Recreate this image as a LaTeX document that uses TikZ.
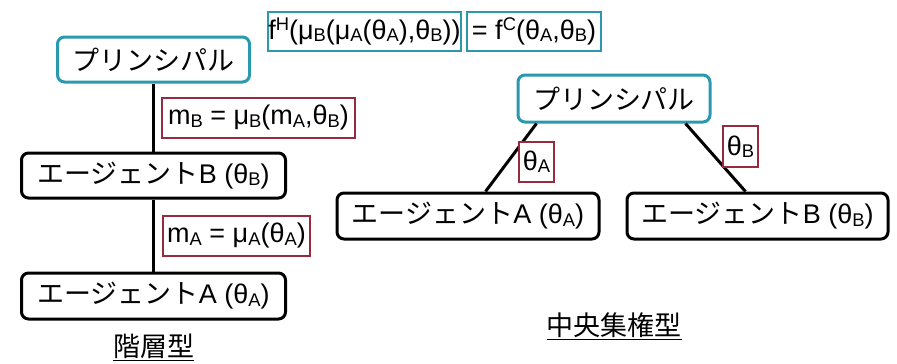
\documentclass[tikz,border=0pt]{standalone}
\usepackage{fontspec}
\usepackage{graphicx}
\setmainfont{Liberation Sans}
\newfontfamily\jp{Noto Sans CJK JP}
\newcommand\sbs[1]{\raisebox{-0.08em}{\scalebox{0.68}{#1}}}
\newcommand\sps[1]{\raisebox{0.32em}{\scalebox{0.68}{#1}}}
\definecolor{tealc}{RGB}{42,152,174}
\definecolor{redc}{RGB}{150,42,62}
\begin{document}
\begin{tikzpicture}[x=1pt,y=-1pt,
  every node/.style={font=\fontsize{27}{32}\selectfont, inner sep=0pt, align=center},
  sized/.style n args={2}{minimum width=#1, minimum height=#2},
  princ/.style={draw=tealc, line width=3pt, rounded corners=7pt, fill=white},
  agent/.style={draw=black, line width=3pt, rounded corners=7pt, fill=white},
  lab/.style={draw=redc, line width=2pt, fill=white},
  form/.style={draw=tealc, line width=2pt, fill=white},
  conn/.style={draw=black, line width=3pt}
]
\useasboundingbox (0,0) rectangle (897,364);
% hierarchical
\node[princ, sized={192pt}{45pt}] (pL) at (153.5,59.5) {\jp プリンシパル};
\node[agent, sized={264pt}{45pt}] (bL) at (153.5,175.5) {{\jp エージェント}B (θ\sbs{B})};
\node[agent, sized={264pt}{46pt}] (aL) at (153.5,296) {{\jp エージェント}A (θ\sbs{A})};
\draw[conn] (pL.south) -- (bL.north);
\draw[conn] (bL.south) -- (aL.north);
\node[lab, sized={193pt}{40pt}] (lbB) at (258.5,118) {m\sbs{B} = μ\sbs{B}(m\sbs{A},θ\sbs{B})};
\node[lab, sized={147pt}{40pt}] (lbA) at (236.5,236) {m\sbs{A} = μ\sbs{A}(θ\sbs{A})};
\node (tH) at (153.5,347) {\jp\underline{階層型}};
% formula
\node[form, sized={193pt}{39pt}] (fH) at (364.5,31.5) {f\sps{H}(μ\sbs{B}(μ\sbs{A}(θ\sbs{A}),θ\sbs{B}))};
\node[form, sized={134pt}{39pt}] (fC) at (534,31.5) {= f\sps{C}(θ\sbs{A},θ\sbs{B})};
% centralized
\node[princ, sized={192pt}{47pt}] (pR) at (614,98.5) {\jp プリンシパル};
\node[agent, sized={262pt}{46pt}] (aR) at (468,216) {{\jp エージェント}A (θ\sbs{A})};
\node[agent, sized={261pt}{46pt}] (bR) at (757.5,216) {{\jp エージェント}B (θ\sbs{B})};
\draw[conn] ([xshift=20pt]pR.south west) -- ([xshift=150pt]aR.north west);
\draw[conn] ([xshift=-26pt]pR.south east) -- ([xshift=120pt]bR.north west);
\node[lab, sized={35pt}{40pt}] (thA) at (536.5,162) {θ\sbs{A}};
\node[lab, sized={35pt}{41pt}] (thB) at (740.5,146.5) {θ\sbs{B}};
\node (tC) at (614,326) {\jp\underline{中央集権型}};
\end{tikzpicture}
\end{document}
